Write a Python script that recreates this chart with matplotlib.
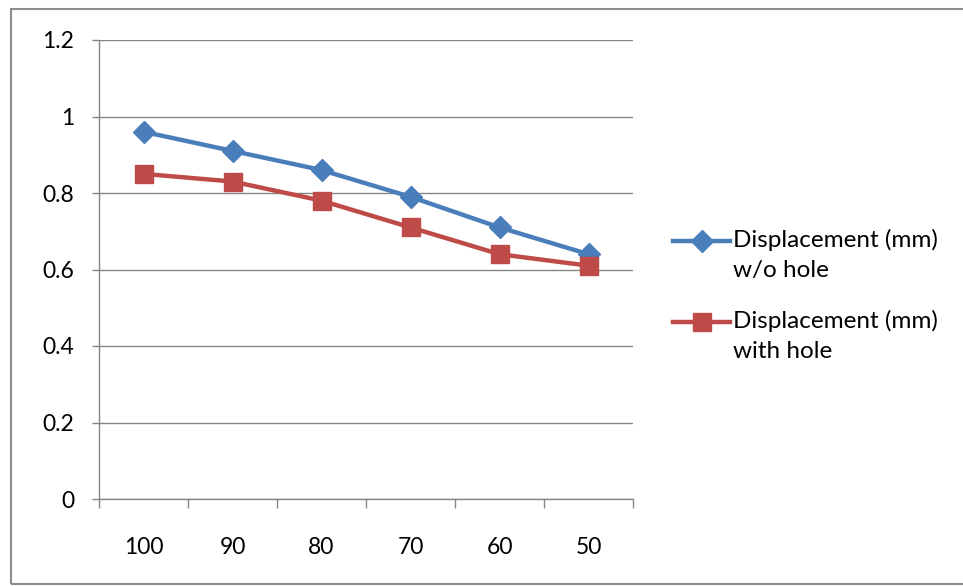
import matplotlib
matplotlib.use("Agg")
import matplotlib.pyplot as plt
from matplotlib.patches import Rectangle
from matplotlib.lines import Line2D

categories = ["100", "90", "80", "70", "60", "50"]
without_hole = [0.96, 0.91, 0.86, 0.79, 0.71, 0.64]
with_hole = [0.85, 0.83, 0.78, 0.71, 0.64, 0.61]
series_labels = ["Displacement (mm)\nw/o hole", "Displacement (mm)\nwith hole"]
yticks = [0, 0.2, 0.4, 0.6, 0.8, 1.0, 1.2]
ytick_labels = ["0", "0.2", "0.4", "0.6", "0.8", "1", "1.2"]

plt.rcParams['font.family'] = ['Lato', 'DejaVu Sans']

W, H = 963, 586
fig = plt.figure(figsize=(W / 100, H / 100), dpi=100)
fig.patch.set_facecolor("white")

# outer chart border
fig.patches.append(Rectangle((11 / W, 1 - 584 / H), (W + 5 - 11) / W, (584 - 9) / H,
                             transform=fig.transFigure, fill=False,
                             edgecolor="#8c8c8c", linewidth=1.5))

ax = fig.add_axes([99 / W, 1 - 499 / H, (633 - 99) / W, (499 - 40) / H])
x = list(range(len(categories)))
styles = [dict(color="#4A7EBB", marker="D", markersize=11),
          dict(color="#BE4B48", marker="s", markersize=13)]
for vals, st, lab in zip([without_hole, with_hole], styles, series_labels):
    ax.plot(x, vals, linewidth=3.2, label=lab, zorder=3, **st)

ax.set_xlim(-0.5, len(categories) - 0.5)
ax.set_ylim(0, 1.2)
ax.set_yticks(yticks)
ax.set_yticklabels(ytick_labels)
ax.set_xticks(x)
ax.set_xticklabels(categories)
ax.set_xticks([i - 0.5 for i in range(len(categories) + 1)], minor=True)
ax.tick_params(axis="x", which="major", length=0, pad=27, labelsize=16.5, colors="#000000")
ax.tick_params(axis="x", which="minor", length=6.5, width=1, color="#868686", direction="out")
ax.tick_params(axis="y", length=5, width=1, color="#868686", pad=13, labelsize=16.5)

ax.grid(axis="y", color="#868686", linewidth=1)
ax.set_axisbelow(True)
for s in ["top", "right"]:
    ax.spines[s].set_visible(False)
for s in ["left", "bottom"]:
    ax.spines[s].set_color("#868686")
    ax.spines[s].set_linewidth(1)

# legend (Excel style: handle aligned with first text line)
legend_y = [241, 322]
for lab, st, yy in zip(series_labels, styles, legend_y):
    yf = 1 - yy / H
    fig.add_artist(Line2D([673 / W, 730 / W], [yf, yf], transform=fig.transFigure,
                          linewidth=3.2, color=st["color"]))
    fig.add_artist(Line2D([701.5 / W], [yf], transform=fig.transFigure,
                          linestyle="none", **st))
    fig.text(733 / W, 1 - (yy - 12) / H, lab, ha="left", va="top", fontsize=17.5,
             linespacing=1.55, color="#000000")

fig.savefig("out.png", dpi=100, facecolor="white")
